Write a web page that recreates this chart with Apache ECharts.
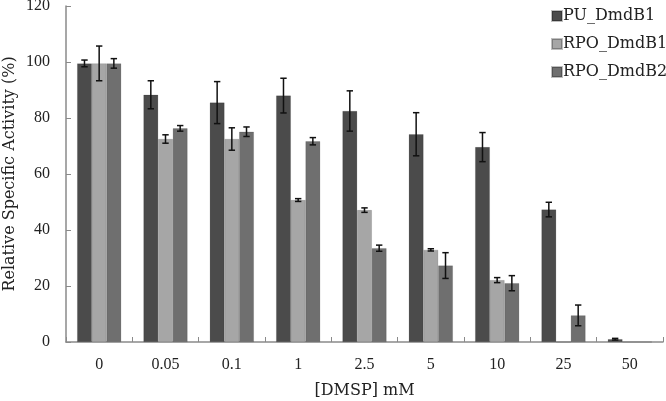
<!DOCTYPE html>
<html><head><meta charset="utf-8">
<script src="https://cdn.jsdelivr.net/npm/echarts@6/dist/echarts.min.js"></script>
<style>html,body{margin:0;padding:0;background:#fff}#c{width:666px;height:401px}</style>
</head><body><div id="c"></div>
<script>
const categories = ['0','0.05','0.1','1','2.5','5','10','25','50'];
const seriesNames = ['PU_DmdB1','RPO_DmdB1','RPO_DmdB2'];
const puValues   = [99.5, 88.3, 85.5, 88.0, 82.5, 74.2, 69.6, 47.3, 1.0];
const puErrors   = [1.2, 5.0, 7.5, 6.2, 7.2, 7.7, 5.2, 2.6, 0.3];
const rpo1Values = [99.5, 72.5, 72.5, 50.7, 47.1, 32.9, 22.1, 0, 0];
const rpo1Errors = [6.2, 1.5, 4.0, 0.5, 0.8, 0.4, 0.9, 0, 0];
const rpo2Values = [99.5, 76.3, 75.1, 71.7, 33.5, 27.3, 21.0, 9.5, 0];
const rpo2Errors = [1.7, 1.0, 1.7, 1.3, 1.1, 4.6, 2.7, 3.7, 0];
const yTicks = [0, 20, 40, 60, 80, 100, 120];

const colors = ['#4b4b4b', '#a6a6a6', '#6f6f6f'];
const allValues = [puValues, rpo1Values, rpo2Values];
const allErrors = [puErrors, rpo1Errors, rpo2Errors];
const font = '"Liberation Serif", "DejaVu Serif", serif';
const wideFont = '"DejaVu Serif", "Liberation Serif", serif';

const chart = echarts.init(document.getElementById('c'));
const series = [];
seriesNames.forEach((n, i) => {
  series.push({
    name: n, type: 'bar', data: allValues[i], barGap: '0%', barCategoryGap: '33.6%',
    itemStyle: { color: colors[i], borderColor: 'rgba(0,0,0,0.25)', borderWidth: 0.5 }
  });
});
seriesNames.forEach((n, i) => {
  const data = allValues[i].map((v, k) => [k, v, allErrors[i][k]]).filter(d => d[1] > 0 && d[2] > 0);
  series.push({
    type: 'custom', name: n + '_err', z: 10, silent: true,
    data: data,
    renderItem: function (params, api) {
      const k = api.value(0), v = api.value(1), e = api.value(2);
      const c = api.coord([k, v]);
      const bw = api.size([1, 0])[0];
      const barW = bw * (1 - 0.336) / 3;
      const x = c[0] - bw * (1 - 0.336) / 2 + barW * (i + 0.5);
      const top = api.coord([k, v + e])[1];
      const bot = api.coord([k, v - e])[1];
      const cap = 3.2;
      const st = { stroke: '#111', lineWidth: 1.5 };
      return { type: 'group', children: [
        { type: 'line', shape: { x1: x, y1: top, x2: x, y2: bot }, style: st },
        { type: 'line', shape: { x1: x - cap, y1: top, x2: x + cap, y2: top }, style: st },
        { type: 'line', shape: { x1: x - cap, y1: bot, x2: x + cap, y2: bot }, style: st }
      ]};
    }
  });
});

chart.setOption({
  animation: false,
  backgroundColor: '#fff',
  grid: { left: 66, right: 3, top: 6, bottom: 59, containLabel: false, outerBoundsMode: 'none' },
  legend: {
    data: seriesNames, orient: 'vertical', left: 546, top: 3,
    itemWidth: 10, itemHeight: 10, itemGap: 12, icon: 'rect',
    textStyle: { fontFamily: wideFont, fontSize: 16, color: '#222', padding: [0, 0, 0, -4] }
  },
  xAxis: {
    type: 'category', data: categories,
    axisLine: { lineStyle: { color: '#8a8a8a', width: 1.5 } },
    axisTick: { show: true, inside: true, length: 5, lineStyle: { color: '#8a8a8a' } },
    axisLabel: { fontFamily: font, fontSize: 16, color: '#222', margin: 15 },
    name: '[DMSP] mM', nameLocation: 'middle', nameGap: 41,
    nameTextStyle: { fontFamily: wideFont, fontSize: 16, color: '#222' }
  },
  yAxis: {
    type: 'value', min: 0, max: 120, interval: 20,
    axisLine: { show: true, lineStyle: { color: '#8a8a8a', width: 1.5 } },
    axisTick: { show: true, inside: true, length: 5, lineStyle: { color: '#8a8a8a' } },
    splitLine: { show: false },
    axisLabel: { fontFamily: font, fontSize: 16, color: '#222', margin: 16,
      formatter: v => yTicks.includes(v) ? String(v) : '' }
  },
  graphic: [{
    type: 'text', x: 10, y: 174, rotation: Math.PI / 2,
    style: { text: 'Relative Specific Activity (%)', fontFamily: wideFont, fontSize: 16, fill: '#222',
      textAlign: 'center', textVerticalAlign: 'middle' }
  }],
  series: series
});
</script></body></html>
